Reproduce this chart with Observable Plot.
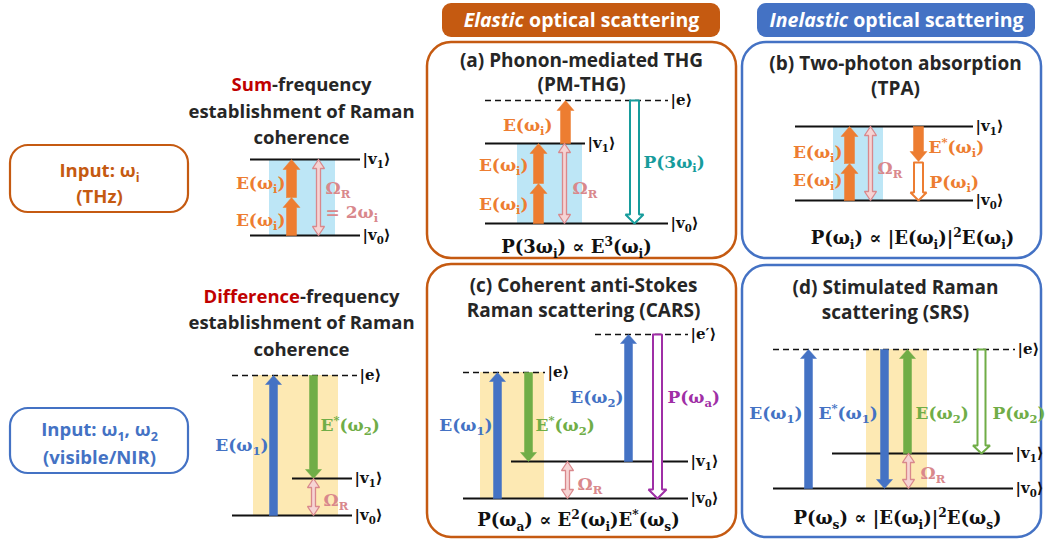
<!DOCTYPE html>
<html>
<head>
<meta charset="utf-8">
<script src="https://cdn.jsdelivr.net/npm/d3@7"></script>
<script src="https://cdn.jsdelivr.net/npm/@observablehq/plot@0.6"></script>
<style>
  html, body { margin: 0; padding: 0; background: #fff; }
  #chart svg { display: block; }
</style>
</head>
<body>
<div id="chart"></div>
<script>
// ---------- palette by role ----------
const colors = {
  thz: "#ED7D31", w1: "#4472C4", w2: "#70AD47", teal: "#179C9C", purple: "#9F2FA6",
  raman: "#D9888C", ramanFill: "#F6D4D4", dark: "#262626", red: "#C00000",
  elastic: "#C55A11", inelastic: "#4472C4", blueBand: "#BDE6F6", yellowBand: "#FDE9B3"
};

// ---------- frames (header bars, panel borders, input boxes) ----------
const headers = [
  {x1: 442, x2: 720, y1: 3, y2: 37, kind: "elastic"},
  {x1: 757, x2: 1035, y1: 3, y2: 37, kind: "inelastic"}
];
const panels = [
  {x1: 427, x2: 736, y1: 42, y2: 258, kind: "elastic"},
  {x1: 742, x2: 1041, y1: 42, y2: 258, kind: "inelastic"},
  {x1: 427, x2: 736, y1: 264, y2: 537, kind: "elastic"},
  {x1: 742, x2: 1041, y1: 265, y2: 537, kind: "inelastic"}
];
const inputBoxes = [
  {x1: 10, x2: 188, y1: 145, y2: 212, kind: "elastic"},
  {x1: 10, x2: 188, y1: 408, y2: 473, kind: "inelastic"}
];

// ---------- shaded coherence bands ----------
const bands = [
  {x1: 269, x2: 335, y1: 159, y2: 235, kind: "blueBand"},
  {x1: 253, x2: 338, y1: 375, y2: 515, kind: "yellowBand"},
  {x1: 517, x2: 582, y1: 143, y2: 223, kind: "blueBand"},
  {x1: 833, x2: 883, y1: 126, y2: 200, kind: "blueBand"},
  {x1: 480, x2: 544, y1: 372, y2: 498, kind: "yellowBand"},
  {x1: 866, x2: 927, y1: 349, y2: 488, kind: "yellowBand"}
];

// ---------- energy levels ----------
const levels = [
  {x1: 250, x2: 360, y: 159, label: "|v_{1}⟩", virtual: false},
  {x1: 250, x2: 360, y: 235, label: "|v_{0}⟩", virtual: false},
  {x1: 232, x2: 357, y: 375, label: "|e⟩", virtual: true},
  {x1: 292, x2: 352, y: 478, label: "|v_{1}⟩", virtual: false},
  {x1: 232, x2: 352, y: 515, label: "|v_{0}⟩", virtual: false},
  {x1: 485, x2: 668, y: 100, label: "|e⟩", virtual: true},
  {x1: 485, x2: 585, y: 143, label: "|v_{1}⟩", virtual: false},
  {x1: 485, x2: 668, y: 223, label: "|v_{0}⟩", virtual: false},
  {x1: 795, x2: 973, y: 126, label: "|v_{1}⟩", virtual: false},
  {x1: 795, x2: 973, y: 200, label: "|v_{0}⟩", virtual: false},
  {x1: 595, x2: 688, y: 334, label: "|e′⟩", virtual: true},
  {x1: 463, x2: 545, y: 372, label: "|e⟩", virtual: true},
  {x1: 511, x2: 688, y: 461, label: "|v_{1}⟩", virtual: false},
  {x1: 463, x2: 688, y: 498, label: "|v_{0}⟩", virtual: false},
  {x1: 773, x2: 1015, y: 349, label: "|e⟩", virtual: true},
  {x1: 832, x2: 1013, y: 453, label: "|v_{1}⟩", virtual: false},
  {x1: 773, x2: 1013, y: 488, label: "|v_{0}⟩", virtual: false}
];

// ---------- transitions: x, from-level y, to-level y ----------
const arrows = [
  // sum-frequency
  {x: 291, from: 235, to: 197, kind: "solid", beam: "thz"},
  {x: 291, from: 197, to: 159, kind: "solid", beam: "thz"},
  {x: 318, from: 159, to: 235, kind: "double", beam: "raman"},
  // difference-frequency
  {x: 273, from: 515, to: 375, kind: "solid", beam: "w1"},
  {x: 313, from: 375, to: 478, kind: "solid", beam: "w2"},
  {x: 313, from: 478, to: 515, kind: "double", beam: "raman"},
  // (a)
  {x: 538, from: 223, to: 183, kind: "solid", beam: "thz"},
  {x: 538, from: 183, to: 143, kind: "solid", beam: "thz"},
  {x: 565, from: 143, to: 100, kind: "solid", beam: "thz"},
  {x: 564, from: 143, to: 223, kind: "double", beam: "raman"},
  {x: 634, from: 100, to: 223, kind: "hollow", beam: "teal"},
  // (b)
  {x: 849, from: 200, to: 163, kind: "solid", beam: "thz"},
  {x: 849, from: 163, to: 126, kind: "solid", beam: "thz"},
  {x: 870, from: 126, to: 200, kind: "double", beam: "raman"},
  {x: 918, from: 126, to: 161, kind: "solid", beam: "thz"},
  {x: 918, from: 162, to: 200, kind: "hollow", beam: "thz"},
  // (c)
  {x: 497, from: 498, to: 372, kind: "solid", beam: "w1"},
  {x: 528, from: 372, to: 461, kind: "solid", beam: "w2"},
  {x: 628, from: 461, to: 334, kind: "solid", beam: "w1"},
  {x: 657, from: 334, to: 498, kind: "hollow", beam: "purple"},
  {x: 567, from: 461, to: 498, kind: "double", beam: "raman"},
  // (d)
  {x: 808, from: 488, to: 349, kind: "solid", beam: "w1"},
  {x: 884, from: 349, to: 488, kind: "solid", beam: "w1"},
  {x: 907, from: 453, to: 349, kind: "solid", beam: "w2"},
  {x: 981, from: 349, to: 453, kind: "hollow", beam: "w2"},
  {x: 908, from: 453, to: 488, kind: "double", beam: "raman"}
];

// ---------- field labels (math) ----------
const mathLabels = [
  {x: 285, y: 183, text: "E(ω_{i})", anchor: "end", role: "thz"},
  {x: 285, y: 220, text: "E(ω_{i})", anchor: "end", role: "thz"},
  {x: 325, y: 188, text: "Ω_{R}", anchor: "start", role: "raman"},
  {x: 325, y: 212, text: "= 2ω_{i}", anchor: "start", role: "raman"},
  {x: 268, y: 445, text: "E(ω_{1})", anchor: "end", role: "w1"},
  {x: 320, y: 425, text: "E^{*}(ω_{2})", anchor: "start", role: "w2"},
  {x: 323, y: 500, text: "Ω_{R}", anchor: "start", role: "raman"},
  {x: 552, y: 125, text: "E(ω_{i})", anchor: "end", role: "thz"},
  {x: 528, y: 165, text: "E(ω_{i})", anchor: "end", role: "thz"},
  {x: 528, y: 204, text: "E(ω_{i})", anchor: "end", role: "thz"},
  {x: 572, y: 188, text: "Ω_{R}", anchor: "start", role: "raman"},
  {x: 643, y: 162, text: "P(3ω_{i})", anchor: "start", role: "teal"},
  {x: 842, y: 152, text: "E(ω_{i})", anchor: "end", role: "thz"},
  {x: 842, y: 180, text: "E(ω_{i})", anchor: "end", role: "thz"},
  {x: 877, y: 168, text: "Ω_{R}", anchor: "start", role: "raman"},
  {x: 928, y: 147, text: "E^{*}(ω_{i})", anchor: "start", role: "thz"},
  {x: 929, y: 182, text: "P(ω_{i})", anchor: "start", role: "thz"},
  {x: 492, y: 425, text: "E(ω_{1})", anchor: "end", role: "w1"},
  {x: 535, y: 425, text: "E^{*}(ω_{2})", anchor: "start", role: "w2"},
  {x: 623, y: 397, text: "E(ω_{2})", anchor: "end", role: "w1"},
  {x: 667, y: 397, text: "P(ω_{a})", anchor: "start", role: "purple"},
  {x: 577, y: 484, text: "Ω_{R}", anchor: "start", role: "raman"},
  {x: 802, y: 413, text: "E(ω_{1})", anchor: "end", role: "w1"},
  {x: 818, y: 413, text: "E^{*}(ω_{1})", anchor: "start", role: "w1"},
  {x: 915, y: 413, text: "E(ω_{2})", anchor: "start", role: "w2"},
  {x: 992, y: 413, text: "P(ω_{2})", anchor: "start", role: "w2"},
  {x: 920, y: 473, text: "Ω_{R}", anchor: "start", role: "raman"}
];
const formulas = [
  {x: 576, y: 247, text: "P(3ω_{i}) ∝ E^{3}(ω_{i})"},
  {x: 912, y: 238, text: "P(ω_{i}) ∝ |E(ω_{i})|^{2}E(ω_{i})"},
  {x: 578, y: 520, text: "P(ω_{a}) ∝ E^{2}(ω_{i})E^{*}(ω_{s})"},
  {x: 897, y: 518, text: "P(ω_{s}) ∝ |E(ω_{i})|^{2}E(ω_{s})"}
];

// ---------- headings ----------
const titles = [
  {x: 301, y: 85, text: "[red]Sum[/]-frequency", role: "dark"},
  {x: 301, y: 112, text: "establishment of Raman", role: "dark"},
  {x: 301, y: 138, text: "coherence", role: "dark"},
  {x: 301, y: 297, text: "[red]Difference[/]-frequency", role: "dark"},
  {x: 301, y: 323, text: "establishment of Raman", role: "dark"},
  {x: 301, y: 350, text: "coherence", role: "dark"},
  {x: 99, y: 171, text: "Input: ω_{i}", role: "elastic"},
  {x: 99, y: 197, text: "(THz)", role: "elastic"},
  {x: 99, y: 430, text: "Input: ω_{1}, ω_{2}", role: "inelastic"},
  {x: 99, y: 458, text: "(visible/NIR)", role: "inelastic"}
];
const panelTitles = [
  {x: 581, y: 20, text: "[it]Elastic[/] optical scattering", role: "white", size: 19.5},
  {x: 896, y: 20, text: "[it]Inelastic[/] optical scattering", role: "white", size: 19.5},
  {x: 581, y: 60, text: "(a) Phonon-mediated THG", role: "dark", size: 19},
  {x: 581, y: 84, text: "(PM-THG)", role: "dark", size: 19},
  {x: 895, y: 63, text: "(b) Two-photon absorption", role: "dark", size: 19},
  {x: 895, y: 88, text: "(TPA)", role: "dark", size: 19},
  {x: 583, y: 285, text: "(c) Coherent anti-Stokes", role: "dark", size: 19},
  {x: 583, y: 310, text: "Raman scattering (CARS)", role: "dark", size: 19},
  {x: 895, y: 287, text: "(d) Stimulated Raman", role: "dark", size: 19},
  {x: 895, y: 312, text: "scattering (SRS)", role: "dark", size: 19}
];

// ---------- arrow geometry built from the transition data ----------
const arrowSize = {
  solid: {thz: [10, 17, 10], w1: [8, 16, 9], w2: [8, 16, 9]},
  hollow: {teal: [9, 18, 9], purple: [9, 18, 9], thz: [9, 16, 8], w2: [8, 17, 8]},
  double: {raman: [4, 12, 9]}
};
function arrowPolygon(a) {
  const [s, h, L] = arrowSize[a.kind][a.beam];
  const x = a.x;
  if (a.kind === "double") {
    const y0 = Math.min(a.from, a.to), y1 = Math.max(a.from, a.to);
    return [[x, y0], [x + h / 2, y0 + L], [x + s / 2, y0 + L], [x + s / 2, y1 - L], [x + h / 2, y1 - L],
            [x, y1], [x - h / 2, y1 - L], [x - s / 2, y1 - L], [x - s / 2, y0 + L], [x - h / 2, y0 + L], [x, y0]];
  }
  const d = Math.sign(a.to - a.from);
  const yb = a.to - d * L;
  return [[x - s / 2, a.from], [x - s / 2, yb], [x - h / 2, yb], [x, a.to], [x + h / 2, yb],
          [x + s / 2, yb], [x + s / 2, a.from], [x - s / 2, a.from]];
}
const arrowMarks = arrows.map((a) => {
  const pts = arrowPolygon(a);
  const c = colors[a.beam];
  if (a.kind === "solid") return Plot.line(pts, {x: "0", y: "1", fill: c, stroke: c, strokeWidth: 0.5, strokeLinejoin: "miter"});
  if (a.kind === "hollow") return Plot.line(pts, {x: "0", y: "1", fill: "white", stroke: c, strokeWidth: 2, strokeLinejoin: "miter"});
  return Plot.line(pts, {x: "0", y: "1", fill: colors.ramanFill, stroke: colors.raman, strokeWidth: 1.3, strokeLinejoin: "miter"});
});

const serif = "'DejaVu Serif', 'Liberation Serif', serif";
const sans = "'Open Sans', 'DejaVu Sans', sans-serif";

const mathText = (anchor) => Plot.text(mathLabels.filter((d) => d.anchor === anchor), {
  x: "x", y: "y", text: "text", textAnchor: anchor, fill: (d) => colors[d.role],
  fontFamily: serif, fontWeight: "bold", fontSize: 17
});
const titleText = (size) => Plot.text(panelTitles.filter((d) => d.size === size), {
  x: "x", y: "y", text: "text", fill: (d) => d.role === "white" ? "white" : colors[d.role],
  fontFamily: sans, fontWeight: "bold", fontSize: size
});

const chart = Plot.plot({
  width: 1045, height: 540, margin: 0,
  x: {domain: [0, 1045], range: [0, 1045], axis: null},
  y: {domain: [0, 540], range: [0, 540], axis: null},
  style: {background: "white", overflow: "visible"},
  marks: [
    Plot.rect(headers, {x1: "x1", x2: "x2", y1: "y1", y2: "y2", fill: (d) => colors[d.kind], rx: 9}),
    Plot.rect(panels, {x1: "x1", x2: "x2", y1: "y1", y2: "y2", fill: "none", stroke: (d) => colors[d.kind], strokeWidth: 2.5, rx: 24}),
    Plot.rect(inputBoxes, {x1: "x1", x2: "x2", y1: "y1", y2: "y2", fill: "none", stroke: (d) => colors[d.kind], strokeWidth: 2.2, rx: 18}),
    Plot.rect(bands, {x1: "x1", x2: "x2", y1: "y1", y2: "y2", fill: (d) => colors[d.kind]}),
    Plot.ruleY(levels.filter((d) => d.virtual), {y: "y", x1: "x1", x2: "x2", stroke: "#111", strokeWidth: 1.4, strokeDasharray: "6,4"}),
    Plot.ruleY(levels.filter((d) => !d.virtual), {y: "y", x1: "x1", x2: "x2", stroke: "#111", strokeWidth: 1.8}),
    ...arrowMarks,
    Plot.text(levels, {x: (d) => d.x2 + 2, y: "y", text: "label", textAnchor: "start", fill: "#111",
      fontFamily: serif, fontWeight: "bold", fontSize: 15}),
    mathText("start"),
    mathText("end"),
    Plot.text(formulas, {x: "x", y: "y", text: "text", fill: "#111", fontFamily: serif, fontWeight: "bold", fontSize: 18}),
    Plot.text(titles, {x: "x", y: "y", text: "text", fill: (d) => colors[d.role], fontFamily: sans, fontWeight: "bold", fontSize: 18.5}),
    titleText(19.5),
    titleText(19)
  ]
});

document.getElementById("chart").appendChild(chart);

// ---------- rich text: _{sub}, ^{sup}, [red]..[/], [it]..[/] ----------
const tokenRe = /(_\{[^}]*\}|\^\{[^}]*\}|\[red\][^\[]*\[\/\]|\[it\][^\[]*\[\/\])/;
d3.select(chart).selectAll("text").each(function () {
  const el = this;
  const raw = el.textContent;
  if (!tokenRe.test(raw)) return;
  const fs = parseFloat(getComputedStyle(el).fontSize) || 16;
  const parts = raw.split(tokenRe).filter((p) => p !== "");
  while (el.firstChild) el.removeChild(el.firstChild);
  let shift = 0;
  const sel = d3.select(el);
  for (const p of parts) {
    let t, size = null, target = 0, style = {};
    if (p.startsWith("_{")) { t = p.slice(2, -1); size = fs * 0.68; target = fs * 0.24; }
    else if (p.startsWith("^{")) { t = p.slice(2, -1); size = fs * 0.68; target = -fs * 0.42; }
    else if (p.startsWith("[red]")) { t = p.slice(5, -3); style.fill = colors.red; }
    else if (p.startsWith("[it]")) { t = p.slice(4, -3); style["font-style"] = "italic"; }
    else { t = p; }
    const ts = sel.append("tspan").text(t);
    if (target - shift !== 0) ts.attr("dy", target - shift);
    shift = target;
    if (size) ts.attr("font-size", size);
    for (const k in style) ts.attr(k, style[k]);
  }
});
</script>
</body>
</html>
